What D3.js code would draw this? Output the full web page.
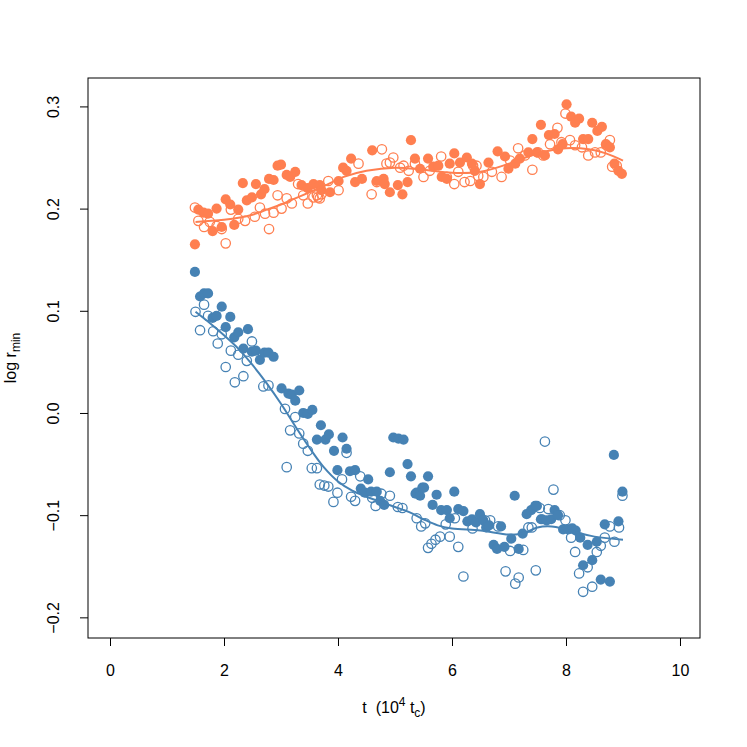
<!DOCTYPE html>
<html>
<head>
<meta charset="utf-8">
<script src="https://cdn.jsdelivr.net/npm/d3@7"></script>
<style>
body { margin: 0; background: #fff; }
text { font-family: "Liberation Sans", Arial, Helvetica, sans-serif; fill: #000; }
</style>
</head>
<body>
<div id="chart"></div>
<script>
// values: [t (10^4 tc), log r_min]
var orangeFilled = [
  [1.49,0.165],[1.55,0.199],[1.64,0.196],[1.72,0.195],[1.80,0.178],[1.87,0.200],[1.96,0.182],
  [2.03,0.209],[2.11,0.204],[2.18,0.184],[2.25,0.199],[2.33,0.225],[2.40,0.208],[2.49,0.211],
  [2.56,0.224],[2.65,0.214],[2.71,0.219],[2.79,0.229],[2.87,0.228],[2.94,0.242],[3.00,0.243],
  [3.10,0.233],[3.16,0.231],[3.25,0.236],[3.36,0.223],[3.47,0.220],[3.57,0.224],[3.68,0.223],
  [3.71,0.218],[3.86,0.216],[4.01,0.227],[4.09,0.240],[4.15,0.237],[4.23,0.249],[4.30,0.226],
  [4.42,0.229],[4.60,0.257],[4.68,0.227],[4.80,0.229],[4.82,0.224],[4.91,0.216],[5.05,0.223],
  [5.13,0.214],[5.22,0.226],[5.28,0.267],[5.35,0.249],[5.44,0.239],[5.58,0.249],[5.67,0.241],
  [5.76,0.242],[5.82,0.231],[5.91,0.229],[5.96,0.244],[6.04,0.254],[6.14,0.245],[6.26,0.250],
  [6.35,0.244],[6.40,0.237],[6.49,0.224],[6.64,0.245],[6.80,0.256],[6.93,0.251],[6.99,0.239],
  [7.11,0.244],[7.19,0.249],[7.34,0.255],[7.41,0.268],[7.49,0.255],[7.56,0.282],[7.63,0.252],
  [7.70,0.272],[7.80,0.273],[7.86,0.258],[7.94,0.263],[8.01,0.302],[8.09,0.290],[8.16,0.284],
  [8.23,0.288],[8.30,0.268],[8.39,0.268],[8.46,0.284],[8.55,0.276],[8.63,0.280],[8.70,0.263],
  [8.77,0.260],[8.85,0.244],[8.92,0.237],[8.98,0.234]
];
var orangeOpen = [
  [1.49,0.201],[1.55,0.188],[1.65,0.182],[1.75,0.187],[1.87,0.183],[1.96,0.180],[2.03,0.166],
  [2.12,0.199],[2.25,0.190],[2.37,0.188],[2.54,0.192],[2.63,0.201],[2.72,0.195],[2.79,0.180],
  [2.87,0.196],[2.94,0.213],[3.01,0.200],[3.10,0.210],[3.19,0.205],[3.30,0.224],[3.39,0.213],
  [3.47,0.205],[3.57,0.211],[3.65,0.211],[3.71,0.214],[3.63,0.213],[3.68,0.210],[3.83,0.227],
  [4.01,0.218],[4.36,0.244],[4.59,0.214],[4.68,0.226],[4.77,0.258],[4.85,0.244],[4.91,0.245],
  [4.97,0.250],[5.09,0.240],[5.15,0.242],[5.24,0.237],[5.35,0.244],[5.50,0.231],[5.61,0.237],
  [5.81,0.251],[5.91,0.231],[6.04,0.224],[6.11,0.236],[6.22,0.226],[6.32,0.227],[6.37,0.242],
  [6.46,0.232],[6.43,0.242],[6.55,0.231],[6.70,0.236],[6.87,0.231],[7.02,0.247],[7.16,0.259],
  [7.28,0.252],[7.41,0.238],[7.51,0.255],[7.60,0.252],[7.72,0.263],[7.85,0.279],[7.92,0.265],
  [7.99,0.293],[8.07,0.267],[8.16,0.262],[8.28,0.260],[8.39,0.252],[8.51,0.255],[8.61,0.255],
  [8.71,0.262],[8.77,0.267],[8.81,0.241],[8.89,0.242]
];
var blueFilled = [
  [1.49,0.138],[1.58,0.114],[1.65,0.117],[1.72,0.117],[1.80,0.093],[1.87,0.095],[1.96,0.104],
  [2.03,0.084],[2.11,0.094],[2.18,0.074],[2.25,0.079],[2.34,0.063],[2.42,0.082],[2.49,0.060],
  [2.56,0.061],[2.63,0.052],[2.71,0.059],[2.78,0.059],[2.87,0.055],[3.01,0.024],[3.13,0.019],
  [3.19,0.018],[3.25,0.012],[3.32,0.022],[3.39,0.000],[3.47,-0.001],[3.55,0.003],[3.63,-0.026],
  [3.70,-0.012],[3.78,-0.026],[3.84,-0.021],[3.93,-0.037],[3.99,-0.056],[4.08,-0.024],[4.15,-0.035],
  [4.21,-0.057],[4.30,-0.056],[4.40,-0.074],[4.47,-0.078],[4.53,-0.065],[4.58,-0.077],[4.68,-0.077],
  [4.74,-0.086],[4.81,-0.090],[4.91,-0.058],[4.97,-0.024],[5.06,-0.025],[5.15,-0.026],[5.22,-0.050],
  [5.28,-0.062],[5.36,-0.079],[5.38,-0.078],[5.44,-0.081],[5.48,-0.073],[5.51,-0.073],[5.58,-0.062],
  [5.66,-0.090],[5.73,-0.080],[5.81,-0.095],[5.91,-0.095],[5.96,-0.103],[6.04,-0.077],[6.11,-0.094],
  [6.20,-0.096],[6.27,-0.106],[6.35,-0.104],[6.42,-0.107],[6.49,-0.099],[6.55,-0.105],[6.60,-0.112],
  [6.65,-0.110],[6.73,-0.129],[6.79,-0.133],[6.86,-0.111],[6.92,-0.131],[7.04,-0.123],[7.10,-0.081],
  [7.17,-0.133],[7.24,-0.118],[7.31,-0.099],[7.39,-0.095],[7.46,-0.091],[7.49,-0.091],[7.56,-0.104],
  [7.58,-0.104],[7.66,-0.105],[7.74,-0.104],[7.80,-0.095],[7.86,-0.100],[7.95,-0.114],[8.04,-0.114],
  [8.11,-0.113],[8.17,-0.115],[8.25,-0.122],[8.30,-0.149],[8.38,-0.129],[8.46,-0.144],[8.54,-0.126],
  [8.61,-0.163],[8.68,-0.109],[8.77,-0.165],[8.84,-0.041],[8.92,-0.106],[8.99,-0.077]
];
var blueOpen = [
  [1.50,0.099],[1.58,0.081],[1.65,0.106],[1.72,0.095],[1.81,0.080],[1.89,0.068],[1.96,0.077],
  [2.03,0.045],[2.12,0.061],[2.19,0.030],[2.25,0.057],[2.34,0.036],[2.40,0.051],[2.49,0.070],
  [2.69,0.026],[2.78,0.027],[3.07,0.004],[3.10,-0.053],[3.16,-0.017],[3.25,-0.004],[3.32,-0.020],
  [3.39,-0.030],[3.47,-0.037],[3.54,-0.054],[3.63,-0.054],[3.68,-0.070],[3.76,-0.071],[3.83,-0.072],
  [3.92,-0.087],[3.99,-0.078],[4.07,-0.065],[4.15,-0.039],[4.23,-0.082],[4.30,-0.086],[4.39,-0.062],
  [4.60,-0.083],[4.66,-0.091],[4.76,-0.079],[4.91,-0.081],[5.05,-0.092],[5.13,-0.093],[5.38,-0.103],
  [5.46,-0.111],[5.53,-0.108],[5.58,-0.132],[5.64,-0.128],[5.71,-0.124],[5.79,-0.121],[5.89,-0.109],
  [5.96,-0.121],[6.05,-0.103],[6.11,-0.131],[6.20,-0.160],[6.36,-0.113],[6.58,-0.105],[6.67,-0.105],
  [6.81,-0.111],[6.94,-0.155],[7.02,-0.135],[7.11,-0.167],[7.17,-0.161],[7.25,-0.134],[7.34,-0.112],
  [7.40,-0.112],[7.47,-0.154],[7.54,-0.093],[7.63,-0.028],[7.69,-0.094],[7.78,-0.075],[7.89,-0.100],
  [7.99,-0.105],[8.09,-0.122],[8.16,-0.136],[8.23,-0.157],[8.30,-0.175],[8.38,-0.151],[8.46,-0.170],
  [8.54,-0.136],[8.61,-0.130],[8.68,-0.122],[8.77,-0.111],[8.85,-0.126],[8.93,-0.112],[8.99,-0.081]
];
var orangeSmooth = [
  [1.5,0.187],[2.0,0.189],[2.5,0.194],[2.75,0.199],[3.0,0.204],[3.25,0.210],[3.5,0.216],[3.75,0.222],
  [4.1,0.231],[4.5,0.237],[5.0,0.240],[5.5,0.238],[6.0,0.235],[6.5,0.236],[7.0,0.244],[7.5,0.254],
  [8.0,0.259],[8.4,0.258],[8.7,0.254],[9.0,0.247]
];
var blueSmooth = [
  [1.5,0.099],[1.75,0.088],[2.0,0.076],[2.25,0.063],[2.5,0.047],[2.75,0.029],[3.0,0.009],[3.25,-0.013],
  [3.5,-0.034],[3.75,-0.053],[4.0,-0.067],[4.25,-0.076],[4.5,-0.082],[4.75,-0.087],[5.0,-0.092],
  [5.25,-0.097],[5.5,-0.104],[5.75,-0.110],[6.0,-0.113],[6.5,-0.115],[7.0,-0.119],[7.25,-0.118],
  [7.5,-0.112],[7.75,-0.111],[8.0,-0.114],[8.5,-0.121],[9.0,-0.124]
];
var xTicks = [0, 2, 4, 6, 8, 10];
var yTicks = [-0.2, -0.1, 0.0, 0.1, 0.2, 0.3];

var width = 747, height = 747;
var mLeft = 88, mRight = 700, mTop = 78, mBottom = 638;
var orange = "#ff7f50", blue = "#4682b4";
var fontSize = 16;

var svg = d3.select("#chart").append("svg").attr("width", width).attr("height", height);

var x = d3.scaleLinear().domain([-0.386, 10.351]).range([mLeft, mRight]);
var y = d3.scaleLinear().domain([-0.2202, 0.3278]).range([mBottom, mTop]);

// axes, R style
var xAxis = svg.append("g").attr("transform", "translate(0," + mBottom + ")")
  .call(d3.axisBottom(x).tickValues(xTicks).tickSize(8).tickPadding(19).tickFormat(d3.format("d")));
var yAxis = svg.append("g").attr("transform", "translate(" + mLeft + ",0)")
  .call(d3.axisLeft(y).tickValues(yTicks).tickSize(8).tickFormat(function (d) {
    return d3.format(".1f")(d).replace("-", "\u2212");
  }));
[xAxis, yAxis].forEach(function (g) {
  g.select(".domain").remove();
  g.selectAll("line").attr("stroke", "#000");
  g.selectAll("text").attr("font-size", fontSize).attr("fill", "#000")
    .style("font-family", "Liberation Sans, Arial, sans-serif");
});
yAxis.selectAll("text")
  .attr("x", 0).attr("y", 0).attr("dy", "0.35em")
  .attr("text-anchor", "middle")
  .attr("transform", "translate(-34.5,0) rotate(-90)");

svg.append("rect").attr("x", mLeft).attr("y", mTop).attr("width", mRight - mLeft).attr("height", mBottom - mTop)
  .attr("fill", "none").attr("stroke", "#000").attr("stroke-width", 1);

// axis titles
var xt = svg.append("text").attr("x", (mLeft + mRight) / 2).attr("y", 713).attr("text-anchor", "middle").attr("font-size", fontSize);
xt.append("tspan").text("t\u00a0\u00a0(10");
xt.append("tspan").attr("font-size", 12).attr("dy", -7).text("4");
xt.append("tspan").attr("dy", 7).text("\u00a0t");
xt.append("tspan").attr("font-size", 12).attr("dy", 4).text("c");
xt.append("tspan").attr("dy", -4).text(")");

var yt = svg.append("text").attr("transform", "translate(16," + ((mTop + mBottom) / 2) + ") rotate(-90)")
  .attr("text-anchor", "middle").attr("font-size", fontSize);
yt.append("tspan").text("log r");
yt.append("tspan").attr("font-size", 12).attr("dy", 4).text("min");

var plot = svg.append("g");

function drawOpen(data, col) {
  plot.selectAll(null).data(data).enter().append("circle")
    .attr("cx", function (d) { return x(d[0]); })
    .attr("cy", function (d) { return y(d[1]); })
    .attr("r", 4.7).attr("fill", "none").attr("stroke", col).attr("stroke-width", 1.3);
}
function drawFilled(data, col) {
  plot.selectAll(null).data(data).enter().append("circle")
    .attr("cx", function (d) { return x(d[0]); })
    .attr("cy", function (d) { return y(d[1]); })
    .attr("r", 5.1).attr("fill", col);
}
var line = d3.line().x(function (d) { return x(d[0]); }).y(function (d) { return y(d[1]); })
  .curve(d3.curveCatmullRom);

drawOpen(orangeOpen, orange);
drawFilled(orangeFilled, orange);
drawOpen(blueOpen, blue);
drawFilled(blueFilled, blue);
plot.append("path").datum(orangeSmooth).attr("d", line).attr("fill", "none").attr("stroke", orange).attr("stroke-width", 2);
plot.append("path").datum(blueSmooth).attr("d", line).attr("fill", "none").attr("stroke", blue).attr("stroke-width", 2);
</script>
</body>
</html>
